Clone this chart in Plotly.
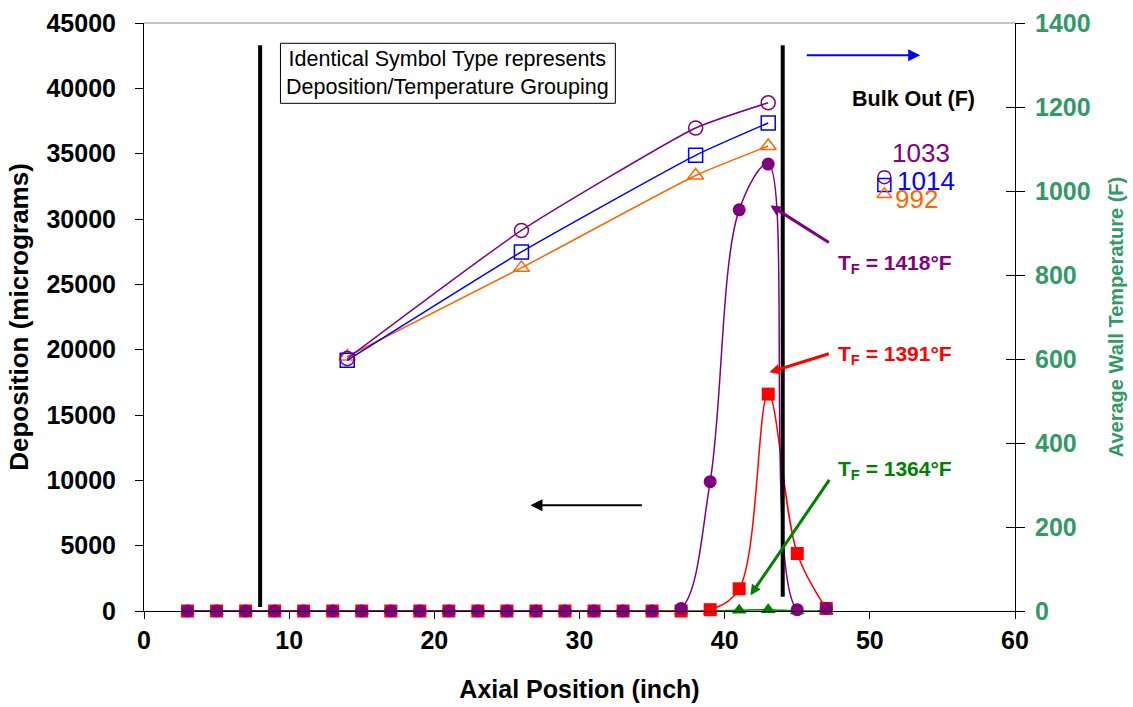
import plotly.graph_objects as go

# ---------------- data ----------------
axial_pos = [3, 5, 7, 9, 11, 13, 15, 17, 19, 21, 23, 25, 27, 29, 31, 33, 35, 37, 39, 41, 43, 45, 47]
dep_1364 = [0, 0, 0, 0, 0, 0, 0, 0, 0, 0, 0, 0, 0, 0, 0, 0, 0, 0, 0, 50, 100, 0, 0]
dep_1391 = [0, 0, 0, 0, 0, 0, 0, 0, 0, 0, 0, 0, 0, 0, 0, 0, 0, 0, 100, 1700, 16600, 4400, 200]
dep_1418 = [0, 0, 0, 0, 0, 0, 0, 0, 0, 0, 0, 0, 0, 0, 0, 0, 0, 200, 9900, 30700, 34200, 100, 200]

wall_pos = [14, 26, 38, 43]
wall_1418 = [601, 906, 1150, 1210]
wall_1391 = [597, 855, 1085, 1162]
wall_1364 = [606, 817, 1037, 1107]

bulk_pos = [51]
bulk_out = [1033, 1014, 992]
bulk_labels = ["1033", "1014", "992"]
tf_labels = ["1418", "1391", "1364"]

FONT = "Arial, Liberation Sans, sans-serif"
PURPLE = "#800080"
BLUE = "#0000FF"
ORANGE = "#FF6600"
RED = "#FF0000"
GREEN = "#008000"
SEA = "#339966"

fig = go.Figure()

# deposition (left axis)
fig.add_trace(go.Scatter(x=axial_pos, y=dep_1364, mode="lines+markers", line=dict(color=GREEN, width=1.5, shape="spline"),
                         marker=dict(symbol="triangle-up", size=13, color=GREEN), cliponaxis=False, showlegend=False))
fig.add_trace(go.Scatter(x=axial_pos, y=dep_1391, mode="lines+markers", line=dict(color=RED, width=1.5, shape="spline"),
                         marker=dict(symbol="square", size=13, color=RED), cliponaxis=False, showlegend=False))
fig.add_trace(go.Scatter(x=axial_pos, y=dep_1418, mode="lines+markers", line=dict(color=PURPLE, width=1.5, shape="spline"),
                         marker=dict(symbol="circle", size=13, color=PURPLE), cliponaxis=False, showlegend=False))

# wall temperature (right axis)
for ys, sym, col in zip([wall_1364, wall_1391, wall_1418], ["triangle-up-open", "square-open", "circle-open"], [ORANGE, BLUE, PURPLE]):
    fig.add_trace(go.Scatter(x=wall_pos, y=ys, yaxis="y2", mode="lines+markers",
                             line=dict(color=col, width=1.5, shape="spline", smoothing=0.5),
                             marker=dict(symbol=sym, size=14, color=col, line=dict(width=1.5)), showlegend=False))

# bulk out markers
for val, sym, col in zip(bulk_out, ["circle-open", "square-open", "triangle-up-open"], [PURPLE, BLUE, ORANGE]):
    fig.add_trace(go.Scatter(x=bulk_pos, y=[val], yaxis="y2", mode="markers",
                             marker=dict(symbol=sym, size=13, color=col, line=dict(width=1.5)), showlegend=False))

# invisible trace for inside ticks on right axis (cross ticks)
fig.add_trace(go.Scatter(x=[0], y=[0], yaxis="y3", mode="markers", marker=dict(opacity=0), showlegend=False, hoverinfo="skip"))

annotations = []
# bulk out labels
for lab, col, yv, xl in zip(bulk_labels, [PURPLE, BLUE, ORANGE], [35040, 32890, 31510], [51.4, 51.75, 51.6]):
    annotations.append(dict(x=xl, y=yv, xref="x", yref="y", text=lab, showarrow=False, xanchor="left", yanchor="middle",
                            font=dict(family=FONT, size=26, color=col)))
annotations.append(dict(x=53.0, y=39160, xref="x", yref="y", text="<b>Bulk Out (F)</b>", showarrow=False,
                        font=dict(family=FONT, size=21.5, color="black")))
# TF labels
for lab, col, yv in zip(tf_labels, [PURPLE, RED, GREEN], [26530, 19570, 10770]):
    annotations.append(dict(x=47.7, y=yv, xref="x", yref="y", text="<b>T<sub>F</sub> = " + lab + "°F</b>", showarrow=False,
                            xanchor="left", yanchor="middle", font=dict(family=FONT, size=21, color=col)))
# text box
annotations.append(dict(x=20.94, y=41150, xref="x", yref="y",
                        text="Identical Symbol Type represents<br>Deposition/Temperature Grouping", showarrow=False,
                        font=dict(family=FONT, size=21.5, color="black")))
# arrows
arrows = [
    (53.47, 42525, 45.55, 42525, BLUE, 2, 1.2),
    (26.62, 8090, 34.40, 8090, "black", 2, 1.2),
    (43.15, 31040, 47.28, 28130, PURPLE, 3, 0.7),
    (43.08, 18270, 47.28, 19720, RED, 3, 0.7),
    (41.77, 1200, 47.28, 10150, GREEN, 3, 0.7),
]
for hx, hy, tx, ty, col, w, sz in arrows:
    annotations.append(dict(x=hx, y=hy, ax=tx, ay=ty, xref="x", yref="y", axref="x", ayref="y", text="",
                            showarrow=True, arrowhead=2, arrowsize=sz, arrowwidth=w, arrowcolor=col))

shapes = [
    dict(type="line", xref="x", yref="y", x0=8, x1=8, y0=300, y1=43300, line=dict(color="black", width=4)),
    dict(type="line", xref="x", yref="y", x0=44, x1=44, y0=1100, y1=43300, line=dict(color="black", width=4)),
    dict(type="rect", xref="x", yref="y", x0=9.40, x1=32.47, y0=38853, y1=43446, line=dict(color="black", width=1)),
    dict(type="line", xref="paper", yref="paper", x0=0, x1=1, y0=1, y1=1, line=dict(color="#888888", width=1)),
]

fig.update_layout(
    width=1133, height=707,
    margin=dict(l=144, r=118, t=23, b=96),
    paper_bgcolor="white", plot_bgcolor="white",
    font=dict(family=FONT, color="black"),
    xaxis=dict(range=[0, 60], dtick=10, tick0=0, showgrid=False, zeroline=False, showline=True, linecolor="black", linewidth=1,
               ticks="outside", ticklen=7, tickcolor="black", tickformat="d", automargin=False,
               tickfont=dict(family=FONT, size=25, color="black", weight="bold"),
               title=dict(text="<b>Axial Position (inch)</b>", font=dict(family=FONT, size=25), standoff=27)),
    yaxis=dict(range=[0, 45000], dtick=5000, tick0=0, showgrid=False, zeroline=False, showline=True, linecolor="black", linewidth=1,
               ticks="outside", ticklen=8, tickcolor="black", tickformat="d", automargin=False, ticklabelstandoff=14,
               tickfont=dict(family=FONT, size=25, color="black", weight="bold"),
               title=dict(text="<b>Deposition (micrograms)</b>", font=dict(family=FONT, size=26), standoff=10)),
    yaxis2=dict(range=[0, 1400], dtick=200, tick0=0, overlaying="y", side="right", showgrid=False, zeroline=False,
                showline=True, linecolor="black", linewidth=1, ticks="outside", ticklen=9, tickcolor="black", tickformat="d",
                automargin=False, ticklabelstandoff=5,
                tickfont=dict(family=FONT, size=25, color=SEA, weight="bold"),
                title=dict(text="<b>Average Wall Temperature (F)</b>", font=dict(family=FONT, size=20, color=SEA), standoff=19)),
    yaxis3=dict(range=[0, 1400], dtick=200, tick0=0, overlaying="y", side="right", showgrid=False, zeroline=False,
                showline=False, ticks="inside", ticklen=9, tickcolor="black", showticklabels=False, automargin=False),
    annotations=annotations,
    shapes=shapes,
)

fig.write_html("out.html")
